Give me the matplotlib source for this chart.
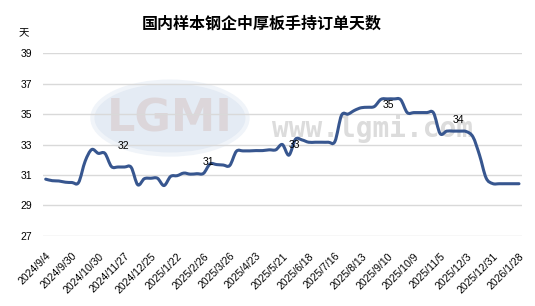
import numpy as np
import matplotlib
matplotlib.use('Agg')
import matplotlib.pyplot as plt
from matplotlib.patches import Ellipse, PathPatch
from matplotlib.path import Path

plt.rcParams['font.family'] = ['Liberation Sans', 'Noto Sans CJK SC', 'DejaVu Sans']

# Weekly order days (index 0 = 2024/9/4)
values = [30.72, 30.62, 30.6, 30.52, 30.5, 30.5, 31.9, 32.67, 32.42, 32.42,
          31.55, 31.52, 31.52, 31.5, 30.35, 30.75, 30.78, 30.78, 30.3, 30.9,
          30.95, 31.12, 31.05, 31.08, 31.1, 31.72, 31.68, 31.65, 31.62, 32.55,
          32.58, 32.58, 32.6, 32.6, 32.65, 32.65, 33.0, 32.3, 33.35, 33.3,
          33.15, 33.15, 33.15, 33.15, 33.2, 34.92, 35.0, 35.25, 35.42, 35.45,
          35.5, 35.97, 36.0, 36.0, 35.95, 35.1, 35.1, 35.1, 35.1, 35.08,
          33.72, 33.88, 33.88, 33.88, 33.85, 33.5, 32.3, 30.8, 30.43, 30.42,
          30.42, 30.42, 30.42]

tick_labels = ['2024/9/4', '2024/9/30', '2024/10/30', '2024/11/27', '2024/12/25',
               '2025/1/22', '2025/2/26', '2025/3/26', '2025/4/23', '2025/5/21',
               '2025/6/18', '2025/7/16', '2025/8/13', '2025/9/10', '2025/10/9',
               '2025/11/5', '2025/12/3', '2025/12/31', '2026/1/28']

# Data labels shown on the chart
label_x = [11.9, 24.7, 37.9, 52.2, 62.8]
label_y = [32.9, 31.85, 32.97, 35.6, 34.6]
label_text = ['32', '31', '33', '35', '34']


def smooth_path(xs, ys):
    # Excel-like smoothed line: bezier segments through the data points
    pts = np.column_stack([xs, ys]).astype(float)
    n = len(pts)
    verts = [pts[0]]
    codes = [Path.MOVETO]
    for i in range(n - 1):
        p0 = pts[max(i - 1, 0)]
        p1 = pts[i]
        p2 = pts[i + 1]
        p3 = pts[min(i + 2, n - 1)]
        c1 = p1 + (p2 - p0) / 6.0
        c2 = p2 - (p3 - p1) / 6.0
        verts += [c1, c2, p2]
        codes += [Path.CURVE4] * 3
    return Path(verts, codes)


x = np.arange(len(values))

fig = plt.figure(figsize=(5.35, 3.06), dpi=100)
ax = fig.add_axes([0.0804, 0.2297, 0.8953, 0.5961])

# Watermark
ax.add_patch(Ellipse((0.265, 0.645), 0.324, 0.40, transform=ax.transAxes,
                     facecolor='#E4EBF4', edgecolor='#F0F4F9', lw=3, zorder=0))
ax.text(0.265, 0.64, 'LGMI', transform=ax.transAxes, ha='center', va='center',
        fontsize=32, fontweight='bold', color='#DCD6DA', family='DejaVu Sans', zorder=0)
ax.text(0.687, 0.59, 'www.lgmi.com', transform=ax.transAxes, ha='center', va='center',
        fontsize=20, fontweight='bold', color='#DCDCDC', family='DejaVu Sans Mono', zorder=0)

# Main line
ax.add_patch(PathPatch(smooth_path(x, values), facecolor='none', edgecolor='#37568F',
                       lw=2.2, capstyle='round', joinstyle='round', zorder=3))

for lx, ly, t in zip(label_x, label_y, label_text):
    ax.text(lx, ly, t, ha='center', va='center', fontsize=7.5, color='black', zorder=4)

ax.set_ylim(27, 39)
ax.set_yticks(np.arange(27, 40, 2))
ax.set_xlim(-0.41, 72.46)
ax.set_xticks(x[::4])
ax.set_xticklabels(tick_labels, rotation=45, ha='right', va='top',
                   rotation_mode='anchor', fontsize=7.5)
ax.tick_params(axis='x', length=0, pad=11)
ax.tick_params(axis='y', length=0, pad=8, labelsize=7.5)

ax.grid(axis='y', color='#D9D9D9', lw=1)
ax.set_axisbelow(True)
for s in ax.spines.values():
    s.set_visible(False)

fig.text(0.49, 0.922, '国内样本钢企中厚板手持订单天数', ha='center', va='center',
         fontsize=11.5, fontweight='bold', family=['Noto Sans CJK SC', 'DejaVu Sans'])
fig.text(0.045, 0.892, '天', ha='center', va='center', fontsize=7.5,
         family=['Noto Sans CJK SC', 'DejaVu Sans'])

fig.savefig('out.png', dpi=100)
